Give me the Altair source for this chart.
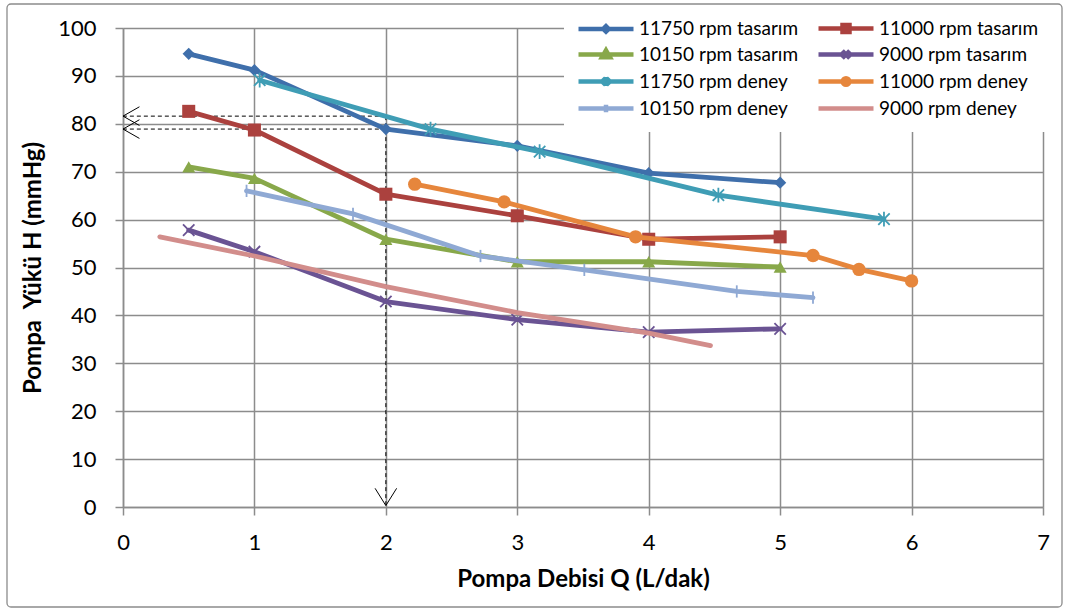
import altair as alt
import pandas as pd

# ---------------- data ----------------
series_names = [
    "11750 rpm tasarım", "11000 rpm tasarım",
    "10150 rpm tasarım", "9000 rpm tasarım",
    "11750 rpm deney", "11000 rpm deney",
    "10150 rpm deney", "9000 rpm deney",
]
series_colors = [
    "#3f6fab", "#ab413e", "#88a84a", "#6a5393",
    "#3f9db5", "#e6863c", "#8fa9d4", "#d28d8b",
]

x_tasarim = [0.5, 1, 2, 3, 4, 5]
h_11750_tasarim = [94.6, 91.2, 78.9, 75.4, 69.7, 67.7]
h_11000_tasarim = [82.6, 78.7, 65.3, 60.8, 55.9, 56.4]
h_10150_tasarim = [71.0, 68.6, 55.9, 51.2, 51.2, 50.1]
h_9000_tasarim = [57.8, 53.3, 42.9, 39.1, 36.5, 37.2]

x_11750_deney = [1.04, 2.34, 3.17, 4.53, 5.79]
h_11750_deney = [89.1, 78.9, 74.2, 65.1, 60.1]
x_11000_deney = [2.22, 2.90, 3.90, 5.25, 5.60, 6.00]
h_11000_deney = [67.4, 63.7, 56.4, 52.5, 49.6, 47.2]
x_10150_deney = [0.94, 1.75, 2.72, 3.51, 4.67, 5.25]
h_10150_deney = [66.0, 61.2, 52.4, 49.5, 45.0, 43.7]
x_9000_deney = [0.28, 1.0, 2.0, 3.0, 4.0, 4.47]
h_9000_deney = [56.4, 52.4, 46.0, 40.6, 36.3, 33.7]

series_x = [x_tasarim, x_tasarim, x_tasarim, x_tasarim,
            x_11750_deney, x_11000_deney, x_10150_deney, x_9000_deney]
series_h = [h_11750_tasarim, h_11000_tasarim, h_10150_tasarim, h_9000_tasarim,
            h_11750_deney, h_11000_deney, h_10150_deney, h_9000_deney]

x_ticks = [0, 1, 2, 3, 4, 5, 6, 7]
y_ticks = [0, 10, 20, 30, 40, 50, 60, 70, 80, 90, 100]

# reading lines (dashed) and arrow heads
read_q = 2.0
read_h = [81.6, 78.9]

# ---------------- styles ----------------
FONT = "Lato"
GRID = "#8c8c8c"

marker_styles = [
    dict(shape="diamond", filled=True, size=150, strokeWidth=0),
    dict(shape="square", filled=True, size=170, strokeWidth=0),
    dict(shape="triangle-up", filled=True, size=170, strokeWidth=0),
    dict(shape="M-1,-1L1,1M-1,1L1,-1", filled=False, size=130, strokeWidth=1.8),
    dict(shape="M-1,-1L1,1M-1,1L1,-1M0,-1.3L0,1.3", filled=False, size=130, strokeWidth=1.8),
    dict(shape="circle", filled=True, size=180, strokeWidth=0),
    dict(shape="M0,-1L0,1", filled=False, size=150, strokeWidth=1.8),
    None,
]

# legend symbols: line segment + marker (units of 5 px, symbol size 100)
legend_paths = [
    "M-1,0L10,0M3.95,0L4.5,-0.55L5.05,0L4.5,0.55Z",
    "M-1,0L10,0M3.8,-0.7L5.2,-0.7L5.2,0.7L3.8,0.7Z",
    "M-1,0L10,0M4.5,-0.85L5.3,0.55L3.7,0.55Z",
    "M-1,0L10,0M3.75,-0.75L5.25,0.75M3.75,0.75L5.25,-0.75",
    "M-1,0L10,0M3.8,-0.7L5.2,0.7M3.8,0.7L5.2,-0.7M4.5,-0.9L4.5,0.9",
    "M-1,0L10,0M3.85,0A0.65,0.65 0 1,0 5.15,0A0.65,0.65 0 1,0 3.85,0Z",
    "M-1,0L10,0M4.5,-0.75L4.5,0.75",
    "M-1,0L10,0",
]

rows = []
for name, xs, hs in zip(series_names, series_x, series_h):
    for xv, hv in zip(xs, hs):
        rows.append({"series": name, "x": xv, "h": hv})
df = pd.DataFrame(rows)

x_scale = alt.Scale(domain=[0, 7], nice=False, zero=False)
y_scale = alt.Scale(domain=[0, 100], nice=False, zero=False)

x_enc = alt.X(
    "x:Q", scale=x_scale,
    axis=alt.Axis(values=x_ticks, title="Pompa Debisi Q (L/dak)", format="d",
                  labelPadding=17, titlePadding=14, labelFlush=False),
)
y_enc = alt.Y(
    "h:Q", scale=y_scale,
    axis=alt.Axis(values=y_ticks, title="Pompa\u00a0 Yükü H (mmHg)", format="d",
                  labelPadding=19, titlePadding=12, labelFlush=False),
)

layers = []

# outer frame of the chart
frame = alt.Chart(pd.DataFrame({"a": [0]})).mark_rect(
    fill="transparent", stroke="#8c8c8c", strokeWidth=1.3, cornerRadius=4
).encode(x=alt.value(-116), x2=alt.value(939), y=alt.value(-24), y2=alt.value(579))
layers.append(frame)

# base layer carrying axes (invisible points)
base = alt.Chart(df).mark_point(opacity=0).encode(x=x_enc, y=y_enc)
layers.append(base)

# dashed reading lines
seg_rows = [{"x": read_q, "y": max(read_h), "x2": read_q, "y2": 0}]
for hv in read_h:
    seg_rows.append({"x": read_q, "y": hv, "x2": 0, "y2": hv})
seg_df = pd.DataFrame(seg_rows)
dashed = alt.Chart(seg_df).mark_rule(color="black", strokeWidth=1, strokeDash=[4, 3]).encode(
    x=alt.X("x:Q", scale=x_scale), y=alt.Y("y:Q", scale=y_scale),
    x2="x2:Q", y2="y2:Q",
)
layers.append(dashed)

# open arrow heads
arm_rows = []
for hv in read_h:
    arm_rows.append({"x": 0, "y": hv, "x2": 0.125, "y2": hv + 1.95})
    arm_rows.append({"x": 0, "y": hv, "x2": 0.125, "y2": hv - 1.95})
arm_rows.append({"x": read_q, "y": 0.3, "x2": read_q - 0.082, "y2": 3.9})
arm_rows.append({"x": read_q, "y": 0.3, "x2": read_q + 0.082, "y2": 3.9})
arm_df = pd.DataFrame(arm_rows)
arms = alt.Chart(arm_df).mark_rule(color="black", strokeWidth=1).encode(
    x=alt.X("x:Q", scale=x_scale), y=alt.Y("y:Q", scale=y_scale),
    x2="x2:Q", y2="y2:Q",
)
layers.append(arms)

# series lines + markers
for name, color, ms in zip(series_names, series_colors, marker_styles):
    sdf = df[df["series"] == name]
    line = alt.Chart(sdf).mark_line(
        color=color, strokeWidth=4.8, strokeJoin="round", strokeCap="round"
    ).encode(x=alt.X("x:Q", scale=x_scale), y=alt.Y("h:Q", scale=y_scale), order="x:Q")
    layers.append(line)
    if ms is not None:
        if ms["filled"]:
            mk = alt.Chart(sdf).mark_point(
                shape=ms["shape"], filled=True, size=ms["size"], color=color, opacity=1
            )
        else:
            mk = alt.Chart(sdf).mark_point(
                shape=ms["shape"], filled=False, size=ms["size"], color=color,
                strokeWidth=ms["strokeWidth"], opacity=1
            )
        layers.append(mk.encode(x=alt.X("x:Q", scale=x_scale), y=alt.Y("h:Q", scale=y_scale)))

# legend layer (invisible marks, legend only)
leg = alt.Legend(
    title=None, orient="none", legendX=441, legendY=-19, columns=2, direction="horizontal",
    columnPadding=10, rowPadding=0, labelFont=FONT, labelFontSize=19,
    labelColor="black", labelOffset=46, labelLimit=400, symbolSize=100,
    symbolStrokeWidth=4.5, symbolOpacity=1, fillColor="white", padding=10,
)
legend_layer = alt.Chart(df).mark_point(filled=True, opacity=0, size=1).encode(
    x=alt.X("x:Q", scale=x_scale), y=alt.Y("h:Q", scale=y_scale),
    color=alt.Color("series:N", scale=alt.Scale(domain=series_names, range=series_colors), legend=leg),
    stroke=alt.Stroke("series:N", scale=alt.Scale(domain=series_names, range=series_colors), legend=leg),
    shape=alt.Shape("series:N", scale=alt.Scale(domain=series_names, range=legend_paths), legend=leg),
)
layers.append(legend_layer)

chart = alt.layer(*layers).properties(
    width=920, height=479,
    autosize=alt.AutoSizeParams(type="none"),
    padding={"left": 123, "top": 28, "right": 23, "bottom": 102},
    background="white",
).configure_view(stroke=None).configure_axis(
    labelFont=FONT, labelFontSize=22, labelColor="black",
    titleFont=FONT, titleFontSize=24, titleFontWeight="bold", titleColor="black",
    gridColor=GRID, gridWidth=1.5, gridOpacity=1,
    domainColor=GRID, domainWidth=1.5, tickColor=GRID, tickWidth=1.5, tickSize=8,
).configure_axisX(labelAngle=0)

chart.save("out.html", embed_options={"renderer": "svg", "actions": False})
